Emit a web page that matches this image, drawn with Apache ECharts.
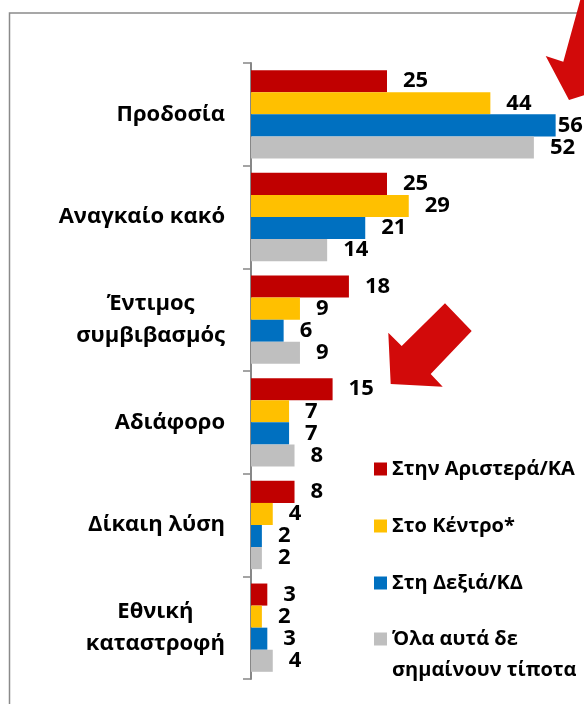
<!DOCTYPE html>
<html>
<head>
<meta charset="utf-8">
<script src="https://cdn.jsdelivr.net/npm/echarts@6/dist/echarts.min.js"></script>
<style>
  html, body { margin: 0; padding: 0; background: #fff; }
  #chart { width: 584px; height: 704px; }
</style>
</head>
<body>
<div id="chart"></div>
<script>
// Categories (top to bottom)
const categories = ['Προδοσία', 'Αναγκαίο κακό', 'Έντιμος\nσυμβιβασμός', 'Αδιάφορο', 'Δίκαιη λύση', 'Εθνική\nκαταστροφή'];

// Series names
const seriesNames = ['Στην Αριστερά/ΚΑ', 'Στο Κέντρο*', 'Στη Δεξιά/ΚΔ', 'Όλα αυτά δε\nσημαίνουν τίποτα'];

// Values (%) per group
const leftValues = [25, 25, 18, 15, 8, 3];
const centerValues = [44, 29, 9, 7, 4, 2];
const rightValues = [56, 21, 6, 7, 2, 3];
const nothingValues = [52, 14, 9, 8, 2, 4];

const colors = ['#C00000', '#FFC000', '#0070C0', '#BFBFBF'];
const FONT = '"Open Sans", "Noto Sans", sans-serif';

const chart = echarts.init(document.getElementById('chart'), null, { renderer: 'canvas' });

function makeSeries(name, values, color) {
  return {
    name: name,
    type: 'bar',
    data: values.map(function (v) {
      // the longest bar sits against the right edge, so its label hugs it
      return v >= 56 ? { value: v, label: { distance: 2 } } : v;
    }),
    barGap: '0%',
    barCategoryGap: '14%',
    itemStyle: { color: color },
    label: {
      show: true,
      position: 'right',
      distance: 16,
      color: '#000',
      fontFamily: FONT,
      fontWeight: 'bold',
      fontSize: 22
    }
  };
}

const legendText = {
  color: '#000',
  fontFamily: FONT,
  fontWeight: 'bold',
  fontSize: 20,
  lineHeight: 31
};

const legendBase = {
  orient: 'vertical',
  left: 374,
  padding: 0,
  itemWidth: 13,
  itemHeight: 13,
  itemGap: 26,
  icon: 'rect',
  textStyle: legendText
};

const option = {
  animation: false,
  color: colors,
  grid: { left: 251, top: 63, width: 326.4, bottom: 25, containLabel: false },
  xAxis: {
    type: 'value',
    min: 0,
    max: 60,
    show: false
  },
  yAxis: {
    type: 'category',
    inverse: true,
    data: categories,
    axisLine: { show: true, lineStyle: { color: '#878787', width: 2 } },
    axisTick: { show: true, length: 8, lineStyle: { color: '#878787', width: 1.5 } },
    axisLabel: {
      margin: 26,
      color: '#000',
      fontFamily: FONT,
      fontWeight: 'bold',
      fontSize: 22,
      lineHeight: 32,
      formatter: function (v) {
        return v.split('\n').map(function (s) { return '{c|' + s + '}'; }).join('\n');
      },
      rich: {
        c: { align: 'center', color: '#000', fontFamily: FONT, fontWeight: 'bold', fontSize: 22, lineHeight: 32 }
      }
    }
  },
  legend: [
    Object.assign({}, legendBase, {
      top: 453.5,
      data: [seriesNames[0], seriesNames[1], seriesNames[2]]
    }),
    // two-line entry: swatch lines up with the first line of text
    Object.assign({}, legendBase, {
      top: 592.5,
      formatter: function (name) {
        return name.split('\n').map(function (s) { return '{t|' + s + '}'; }).join('\n');
      },
      textStyle: Object.assign({}, legendText, {
        padding: [31, 0, 0, 0],
        rich: { t: Object.assign({}, legendText) }
      }),
      data: [seriesNames[3]]
    })
  ],
  graphic: [
    // frame
    {
      type: 'polyline',
      shape: { points: [[9.5, 720], [9.5, 13], [600, 13]] },
      style: { stroke: '#8a8a8a', lineWidth: 1.5, fill: null },
      silent: true
    },
    // pointer arrows
    {
      type: 'polygon',
      shape: { points: [[390.7, 384], [388.3, 332.7], [401.7, 346], [445, 303.3], [471.7, 331], [430.7, 374], [442.7, 386.7]] },
      style: { fill: '#D20A0A' },
      silent: true
    },
    {
      type: 'polygon',
      shape: { points: [[569, 100], [545.7, 56], [563.3, 61.7], [583, -10], [620, 0], [594, 84], [606, 88]] },
      style: { fill: '#D20A0A' },
      silent: true
    }
  ],
  series: [
    makeSeries(seriesNames[0], leftValues, colors[0]),
    makeSeries(seriesNames[1], centerValues, colors[1]),
    makeSeries(seriesNames[2], rightValues, colors[2]),
    makeSeries(seriesNames[3], nothingValues, colors[3])
  ]
};

chart.setOption(option);
</script>
</body>
</html>
